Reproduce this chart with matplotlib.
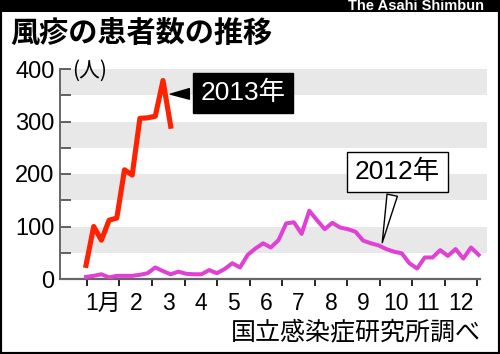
import matplotlib.pyplot as plt
from matplotlib.patches import Rectangle
import numpy as np

# weekly reported cases
weeks_2012 = np.arange(1, 53)
cases_2012 = [4, 6, 9, 3, 6, 6, 6, 8, 11, 22, 15, 9, 14, 10, 9, 9, 17, 11, 19, 30,
              22, 46, 58, 68, 60, 74, 106, 108, 86, 130, 112, 95, 107, 98, 95, 90,
              73, 68, 64, 57, 52, 49, 30, 20, 41, 41, 55, 44, 57, 39, 60, 46]
weeks_2013 = np.arange(1, 13)
cases_2013 = [26, 100, 74, 112, 116, 208, 198, 306, 307, 310, 378, 291]

month_labels = ['1月', '2', '3', '4', '5', '6', '7', '8', '9', '10', '11', '12']
y_labels = [0, 100, 200, 300, 400]

NUM_FONT = ['Liberation Sans Narrow', 'Liberation Sans', 'Noto Sans CJK JP']
CJK_FONT = ['Noto Sans CJK JP', 'DejaVu Sans']

fig = plt.figure(figsize=(5, 3.54), dpi=100)
ax = fig.add_axes([60 / 500, 1 - 279 / 354, 427 / 500, 210 / 354])

for lo in range(50, 400, 100):
    ax.axhspan(lo, lo + 50, color='#e8e8e8', lw=0, zorder=0)

ax.plot(weeks_2012, cases_2012, color='#e040d4', lw=2.9, solid_joinstyle='round', zorder=3)
ax.plot(weeks_2013, cases_2013, color='#ff2200', lw=3.7, solid_joinstyle='round', zorder=4)

step = 4.225
bounds = 1.12 + step * np.arange(13)
ax.set_xlim(1 - 26 / 7.7, 1 + 401 / 7.7)
ax.set_ylim(0, 400)

ax.set_xticks(bounds)
ax.set_xticklabels([])
ax.set_xticks(bounds[:-1] + step / 2, minor=True)
ax.set_xticklabels(month_labels, minor=True, family=NUM_FONT, fontsize=16.5)
ax.tick_params(axis='x', which='major', direction='out', length=5, width=1.2, color='black')
ax.tick_params(axis='x', which='minor', length=0, pad=9)

ax.set_yticks(y_labels)
ax.set_yticklabels([str(v) for v in y_labels], family=NUM_FONT, fontsize=17)
ax.set_yticks(np.arange(50, 400, 100), minor=True)
ax.tick_params(axis='y', which='both', direction='in', length=8, width=1.3,
               color='#555555', pad=4)

for s in ['top', 'right']:
    ax.spines[s].set_visible(False)
ax.spines['left'].set_color('#666666')
ax.spines['left'].set_linewidth(1.4)
ax.spines['bottom'].set_color('#666666')
ax.spines['bottom'].set_linewidth(1.6)
ax.spines['bottom'].set_bounds(ax.get_xlim()[0], 1 + 394 / 7.7)

ax.text(-0.8, 397, '(人)', family=CJK_FONT, fontsize=15, va='center', ha='left')

ax.annotate('2013年', xy=(11.6, 352), xytext=(21.4, 354),
            family=NUM_FONT, fontsize=19, color='white', ha='center', va='center',
            bbox=dict(boxstyle='square,pad=0.3', fc='black', ec='black'),
            arrowprops=dict(arrowstyle='wedge,tail_width=0.4', fc='black', ec='black'),
            zorder=6)
ax.annotate('2012年', xy=(39.4, 64), xytext=(41.4, 204),
            family=NUM_FONT, fontsize=19, color='black', ha='center', va='center',
            bbox=dict(boxstyle='square,pad=0.3', fc='white', ec='black', lw=1),
            arrowprops=dict(arrowstyle='wedge,tail_width=0.4', fc='white', ec='black', lw=1),
            zorder=6)

fig.patches.append(Rectangle((0, 1 - 12 / 354), 1, 12 / 354, transform=fig.transFigure,
                             fc='black', ec='none'))
fig.patches.append(Rectangle((0, 0), 1, 1, transform=fig.transFigure,
                             fill=False, ec='black', lw=3))
fig.text(484 / 500, 1 - 6.5 / 354, 'The Asahi Shimbun', color='white', fontsize=10.5,
         fontweight='bold', family='Liberation Sans', ha='right', va='center')
fig.text(10 / 500, 1 - 33 / 354, '風疹の患者数の推移', family=CJK_FONT, fontsize=21,
         fontweight='bold', ha='left', va='center')
fig.text(481 / 500, 1 - 332 / 354, '国立感染症研究所調べ', family=CJK_FONT, fontsize=18,
         ha='right', va='center')

fig.savefig('out.png', dpi=100)
